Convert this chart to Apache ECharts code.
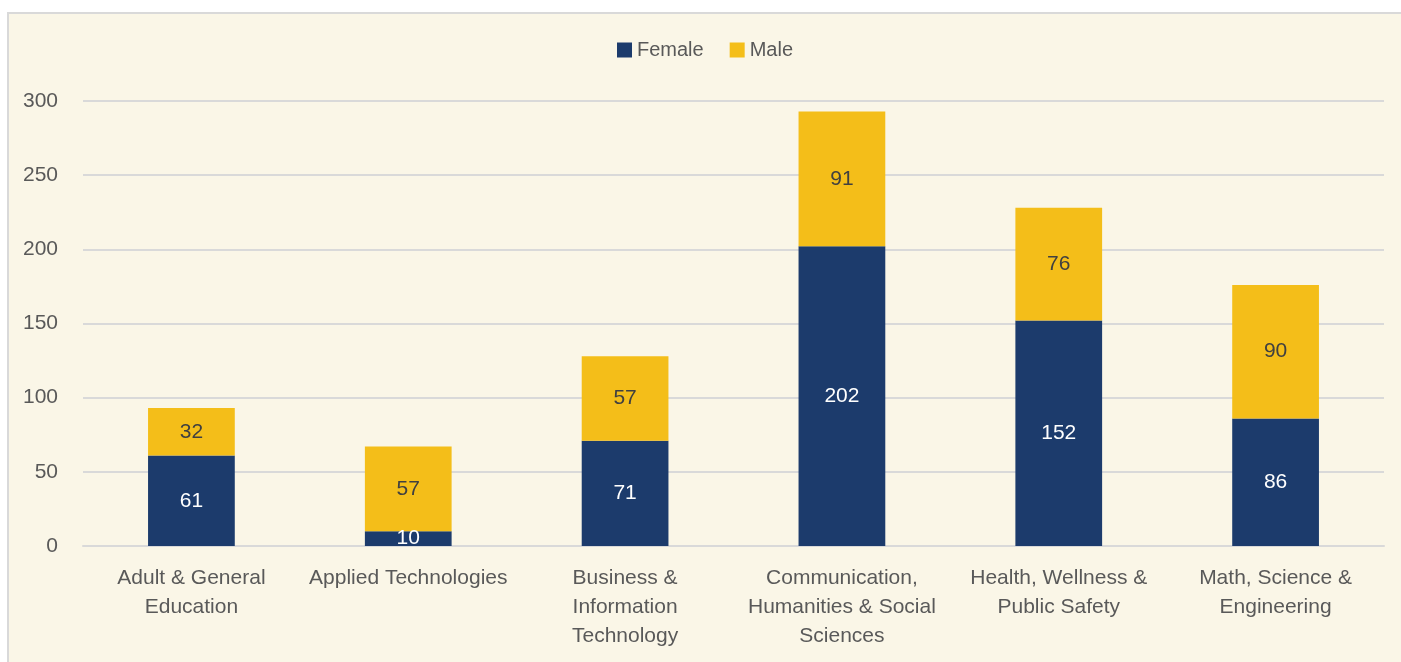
<!DOCTYPE html>
<html>
<head>
<meta charset="utf-8">
<script src="https://cdn.jsdelivr.net/npm/echarts@6/dist/echarts.min.js"></script>
<style>
  html, body { margin: 0; padding: 0; background: #ffffff; overflow: hidden; }
  #wrap {
    position: absolute; left: 7px; top: 12px;
    width: 1392px; height: 648px;
    border-left: 2px solid #d9d9d9; border-top: 2px solid #d9d9d9;
    background: #faf6e7;
  }
  #chart { width: 1392px; height: 648px; }
</style>
</head>
<body>
<div id="wrap"><div id="chart"></div></div>
<script>
const categories = [
  "Adult & General\nEducation",
  "Applied Technologies",
  "Business &\nInformation\nTechnology",
  "Communication,\nHumanities & Social\nSciences",
  "Health, Wellness &\nPublic Safety",
  "Math, Science &\nEngineering"
];
const female = [61, 10, 71, 202, 152, 86];
const male = [32, 57, 57, 91, 76, 90];
const yTicks = { min: 0, max: 300, interval: 50 };

const FONT = "'Liberation Sans', 'DejaVu Sans', sans-serif";
const TEXT = "#595959";

const ins = echarts.init(document.getElementById("chart"));

ins.setOption({
  backgroundColor: "transparent",
  textStyle: { fontFamily: FONT },
  legend: {
    top: 21,
    left: "center",
    itemWidth: 15,
    itemHeight: 15,
    itemGap: 26,
    icon: "rect",
    textStyle: { fontSize: 20, color: TEXT, fontFamily: FONT },
    data: ["Female", "Male"]
  },
  grid: { left: 74, right: 17, top: 87, bottom: 116 },
  xAxis: {
    type: "category",
    data: categories,
    axisTick: { show: false },
    axisLine: { lineStyle: { color: "#d9d9d9", width: 2 } },
    axisLabel: {
      interval: 0,
      margin: 18,
      fontSize: 21,
      lineHeight: 29,
      color: TEXT,
      fontFamily: FONT
    }
  },
  yAxis: {
    type: "value",
    min: yTicks.min,
    max: yTicks.max,
    interval: yTicks.interval,
    axisLine: { show: false },
    axisTick: { show: false },
    splitLine: { lineStyle: { color: "#d9d9d9", width: 2 } },
    axisLabel: { margin: 25, fontSize: 21, color: TEXT, fontFamily: FONT }
  },
  series: [
    {
      name: "Female",
      type: "bar",
      stack: "total",
      barWidth: "40%",
      data: female,
      itemStyle: { color: "#1c3b6c" },
      label: {
        show: true,
        position: "inside",
        color: "#ffffff",
        fontSize: 21,
        fontFamily: FONT
      }
    },
    {
      name: "Male",
      type: "bar",
      stack: "total",
      barWidth: "40%",
      data: male,
      itemStyle: { color: "#f4be19" },
      label: {
        show: true,
        position: "inside",
        color: "#404040",
        fontSize: 21,
        fontFamily: FONT
      }
    }
  ]
});
</script>
</body>
</html>
